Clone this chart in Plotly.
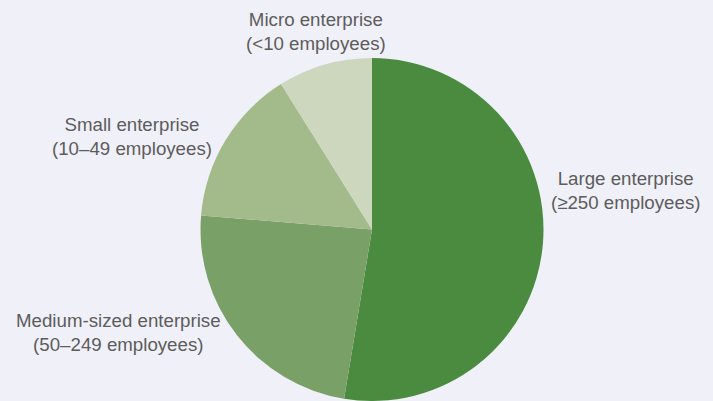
import plotly.graph_objects as go

# Share of enterprises by size class
labels = ["Large enterprise", "Medium-sized enterprise", "Small enterprise", "Micro enterprise"]
sublabels = ["(≥250 employees)", "(50–249 employees)", "(10–49 employees)", "(<10 employees)"]
values = [52.6, 23.7, 14.8, 8.9]
colors = ["#4a8b3f", "#79a066", "#a3ba8b", "#cdd7bd"]

W, H = 713, 401
bg = "#f0f0f8"

fig = go.Figure(
    go.Pie(
        labels=labels,
        values=values,
        sort=False,
        direction="clockwise",
        rotation=0,
        textinfo="none",
        hoverinfo="label+percent",
        marker=dict(colors=colors, line=dict(width=0)),
        showlegend=False,
        domain=dict(x=[200 / W, 544 / W], y=[0.0, 343 / H]),
    )
)

# Slice captions (centre positions in pixels)
label_pos = [(625.6, 190.3), (118.0, 332.3), (132.3, 136.7), (316.0, 31.5)]
for name, sub, (px, py) in zip(labels, sublabels, label_pos):
    fig.add_annotation(
        text=f"{name}<br>{sub}",
        xref="paper", yref="paper",
        x=px / W, y=1 - py / H,
        xanchor="center", yanchor="middle",
        showarrow=False,
        align="center",
        font=dict(family="Liberation Sans, Arial, sans-serif", size=18.7, color="#5c5c5c"),
    )

fig.update_layout(
    width=W, height=H,
    margin=dict(l=0, r=0, t=0, b=0),
    paper_bgcolor=bg,
    plot_bgcolor=bg,
)

fig.write_html("out.html")
